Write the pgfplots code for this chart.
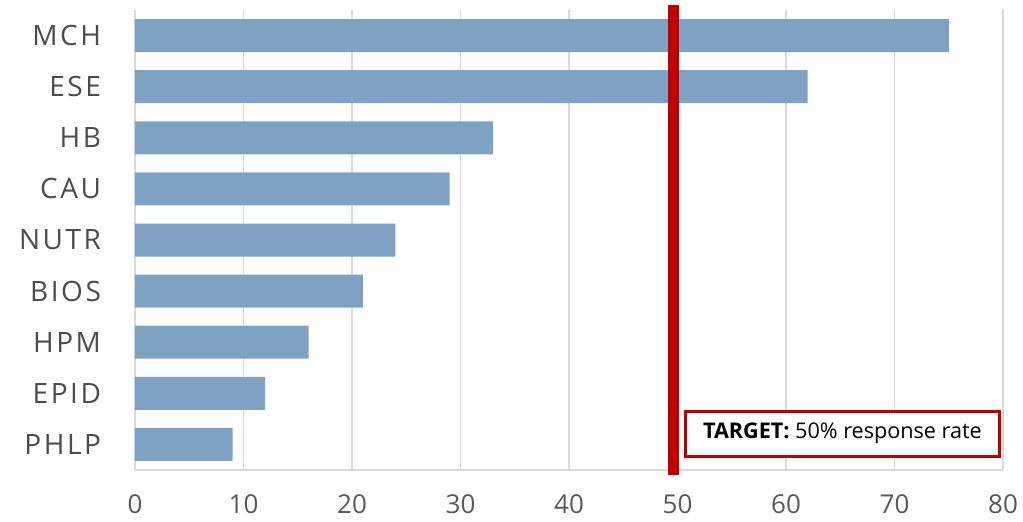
\documentclass[border=0pt]{standalone}
\usepackage{pgfplots}
\pgfplotsset{compat=1.18}
\usepackage{fontspec}
\setmainfont{Open Sans}
\newfontfamily\catfont[LetterSpace=9]{Open Sans}
\definecolor{barblue}{HTML}{7FA1C3}
\definecolor{tgtred}{HTML}{C00000}
\definecolor{gridgray}{HTML}{D9D9D9}
\definecolor{ticktext}{HTML}{595959}
\begin{document}
\begin{tikzpicture}[x=1pt,y=1pt]
\begin{axis}[
  scale only axis,
  width=434pt, height=230pt,
  xmin=0, xmax=80, ymin=-0.5, ymax=8.5,
  xtick={0,10,...,80},
  ytick={0,...,8},
  yticklabels={PHLP,EPID,HPM,BIOS,NUTR,CAU,HB,ESE,MCH},
  axis x line*=bottom, axis y line*=left,
  y axis line style={draw=none},
  x axis line style={gridgray, line width=0.8pt},
  major tick length=0pt,
  xmajorgrids, major grid style={gridgray, line width=0.6pt},
  xticklabel style={font=\fontsize{13}{15}\selectfont, text=ticktext, yshift=-9pt},
  yticklabel style={font=\catfont\fontsize{14}{16}\selectfont, text=black!70, xshift=-13.5pt},
  /pgf/number format/assume math mode=true,
  clip=false,
]
\addplot[xbar, bar width=16.5pt, fill=barblue, draw=none] coordinates {
  (75,8) (62,7) (33,6) (29,5) (24,4) (21,3) (16,2) (12,1) (9,0)
};
\addplot[tgtred, line width=5.5pt] coordinates {(49.6,-0.6) (49.6,8.6)};
\node[draw=tgtred, line width=1.4pt, fill=white, minimum width=157pt, minimum height=22.5pt,
  font=\fontsize{10.8}{12}\selectfont, text=black, inner sep=0pt]
  at (axis cs:65.2,0.21) {\textbf{TARGET:} 50\% response rate};
\end{axis}
\pgfresetboundingbox
\path (-67.5pt,-25.5pt) rectangle (444pt,235pt);
\end{tikzpicture}
\end{document}
